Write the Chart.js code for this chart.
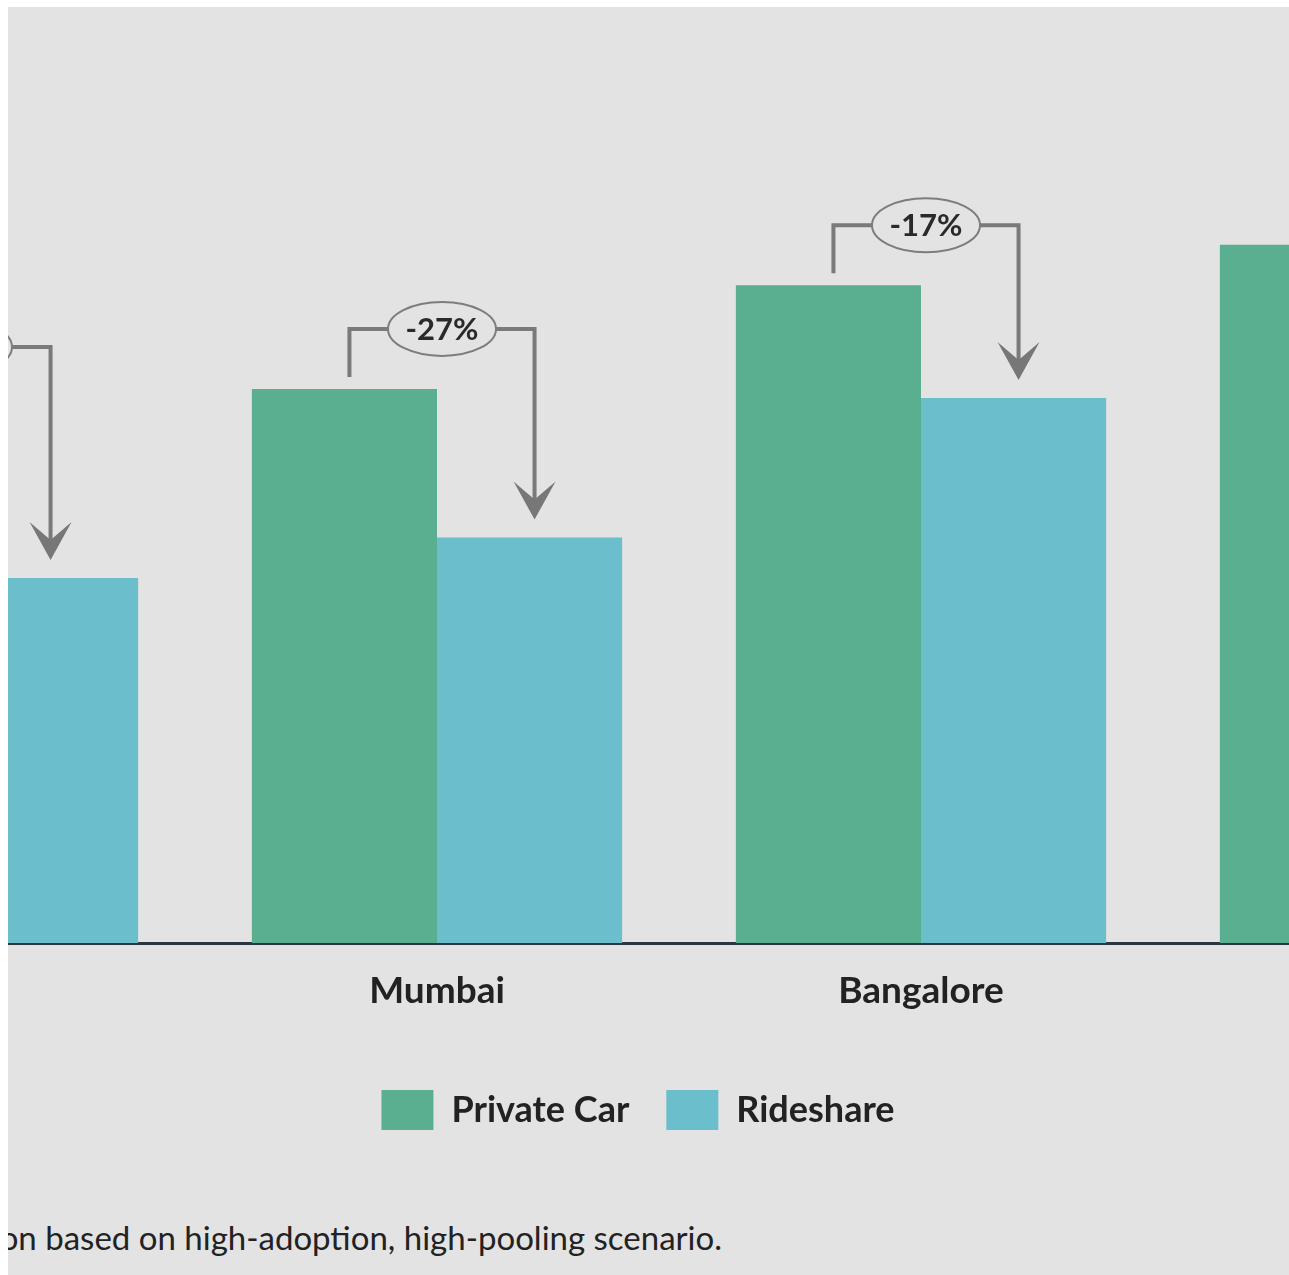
<!DOCTYPE html>
<html>
<head>
<meta charset="utf-8">
<script src="https://cdn.jsdelivr.net/npm/chart.js@4.4.1/dist/chart.umd.min.js"></script>
<style>
  body { margin: 0; background: #ffffff; }
  #frame { position: absolute; left: 8px; top: 7px; width: 1281px; height: 1268px; background: #e3e3e3; overflow: hidden; }
  #idCanvas { position: absolute; left: -379px; top: 0; }
  #note { position: absolute; right: 567px; top: 1210px; white-space: nowrap; font: 33px Lato, sans-serif; color: #222; }
</style>
</head>
<body>
<div id="frame">
  <canvas id="idCanvas" width="2018" height="1133"></canvas>
  <div id="note">Note: Emissions projection based on high-adoption, high-pooling scenario.</div>
</div>
<script>
const cities = ['Delhi', 'Mumbai', 'Bangalore', 'Chennai'];
const privateCar = [119, 123, 146, 155];
const rideshare = [81, 90, 121, 118];

// brackets with % change between the two bars of each city
const bracketPlugin = {
    id: 'brackets',
    afterDatasetsDraw(chart) {
        let ctx = chart.ctx;
        let pc = chart.getDatasetMeta(0).data;
        let rs = chart.getDatasetMeta(1).data;
        ctx.save();
        for (let i = 0; i < cities.length; i++) {
            let x1 = pc[i].x + 5, x2 = rs[i].x + 5;
            let top = pc[i].y - 60;
            let tip = rs[i].y - 18;
            ctx.strokeStyle = '#7a7a7a';
            ctx.lineWidth = 4;
            ctx.beginPath();
            ctx.moveTo(x1, pc[i].y - 12);
            ctx.lineTo(x1, top);
            ctx.lineTo(x2, top);
            ctx.lineTo(x2, tip - 15);
            ctx.stroke();
            ctx.fillStyle = '#777777';
            ctx.beginPath();
            ctx.moveTo(x2, tip);
            ctx.lineTo(x2 - 21, tip - 38);
            ctx.lineTo(x2, tip - 20);
            ctx.lineTo(x2 + 21, tip - 38);
            ctx.closePath();
            ctx.fill();
            let cx = (x1 + x2) / 2;
            ctx.beginPath();
            ctx.ellipse(cx, top, 54, 27, 0, 0, Math.PI * 2);
            ctx.fillStyle = '#e3e3e3';
            ctx.fill();
            ctx.lineWidth = 2;
            ctx.strokeStyle = '#7d7d7d';
            ctx.stroke();
            let pct = Math.round((rideshare[i] / privateCar[i] - 1) * 100);
            ctx.fillStyle = '#2a2a2a';
            ctx.font = 'bold 31px Lato';
            ctx.textAlign = 'center';
            ctx.textBaseline = 'middle';
            ctx.fillText(pct + '%', cx, top + 1);
        }
        ctx.restore();
    }
};

Chart.defaults.font.family = 'Lato';
let ctx = document.getElementById('idCanvas').getContext('2d');
let myChart = new Chart(ctx, {
    type: 'bar',
    data: {
        labels: cities,
        datasets: [{
            label: 'Private Car',
            data: privateCar,
            backgroundColor: '#5aaf91'
        }, {
            label: 'Rideshare',
            data: rideshare,
            backgroundColor: '#6bbecb'
        }]
    },
    options: {
        responsive: false,
        animation: false,
        layout: { padding: { left: 0, right: 0, top: 35, bottom: 0 } },
        categoryPercentage: 0.765,
        barPercentage: 1,
        scales: {
            x: {
                grid: { display: false, drawTicks: false },
                border: { display: true, color: '#2a3642', width: 3 },
                ticks: { color: '#222', font: { size: 37, weight: 'bold' }, padding: 26 },
                afterFit: s => { s.height = 110; }
            },
            y: {
                min: 0, max: 200,
                grid: { display: false, drawTicks: false },
                border: { display: false },
                ticks: { display: false },
                afterFit: s => { s.width = 82; }
            }
        },
        plugins: {
            legend: {
                position: 'bottom',
                labels: { boxWidth: 52, boxHeight: 40, padding: 37, color: '#222', font: { size: 36, weight: 'bold' } }
            },
            tooltip: { enabled: false }
        }
    },
    plugins: [bracketPlugin]
});
</script>
</body>
</html>
